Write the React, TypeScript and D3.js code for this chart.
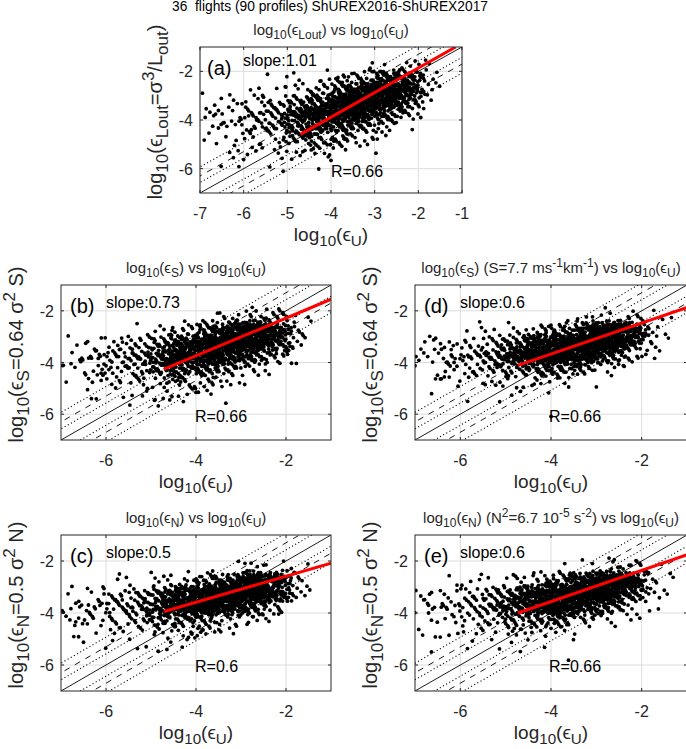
import React from "react";
import * as d3 from "d3";

const FONT = "'Liberation Sans', Arial, Helvetica, sans-serif";
const TXT = "#262626";

// ---- data: density of points (counts per 0.5 x 0.5 cell)
// x bins (log10 eps_U) by left edge; y bins by top edge
const xBinLeft = [-7, -6.5, -6, -5.5, -5, -4.5, -4, -3.5, -3, -2.5, -2];
const yBinTop = [-1.5, -2, -2.5, -3, -3.5, -4, -4.5, -5, -5.5, -6];
const BIN = 0.5;

const countsA = [
  [0, 0, 0, 2, 6, 4, 1, 1, 0, 0],
  [0, 0, 1, 4, 7, 6, 3, 2, 2, 0],
  [0, 1, 2, 6, 12, 10, 5, 3, 2, 0],
  [0, 1, 2, 10, 20, 15, 7, 4, 2, 0],
  [0, 2, 6, 22, 42, 32, 15, 6, 2, 0],
  [0, 3, 12, 38, 62, 42, 18, 8, 2, 0],
  [0, 6, 27, 68, 72, 36, 15, 4, 0, 0],
  [0, 16, 62, 85, 60, 22, 7, 2, 0, 0],
  [3, 40, 85, 66, 28, 8, 2, 0, 0, 0],
  [6, 40, 56, 32, 8, 2, 0, 0, 0, 0],
  [3, 6, 5, 2, 0, 0, 0, 0, 0, 0],
];
const countsB = [
  [0, 0, 0, 3, 6, 3, 2, 1, 0, 0],
  [0, 0, 0, 3, 9, 7, 4, 2, 0, 0],
  [0, 0, 1, 6, 14, 11, 6, 2, 0, 0],
  [0, 0, 2, 12, 22, 15, 6, 2, 1, 0],
  [0, 0, 5, 27, 44, 26, 10, 4, 1, 0],
  [0, 0, 12, 50, 66, 36, 12, 5, 1, 0],
  [0, 2, 26, 78, 76, 30, 10, 3, 0, 0],
  [0, 6, 60, 100, 60, 18, 5, 1, 0, 0],
  [0, 16, 84, 88, 34, 7, 1, 0, 0, 0],
  [0, 16, 60, 48, 12, 3, 0, 0, 0, 0],
  [0, 3, 8, 7, 2, 0, 0, 0, 0, 0],
];
const countsC = [
  [0, 0, 0, 3, 6, 4, 2, 0, 0, 0],
  [0, 0, 0, 4, 10, 6, 4, 1, 0, 0],
  [0, 0, 2, 10, 14, 9, 4, 1, 0, 0],
  [0, 0, 2, 15, 25, 12, 4, 2, 0, 0],
  [0, 1, 4, 32, 52, 18, 6, 3, 0, 0],
  [0, 0, 8, 60, 80, 26, 7, 2, 0, 0],
  [0, 0, 18, 95, 86, 24, 5, 0, 0, 0],
  [0, 1, 42, 122, 68, 14, 2, 0, 0, 0],
  [0, 4, 76, 105, 37, 6, 0, 0, 0, 0],
  [0, 6, 64, 54, 12, 2, 0, 0, 0, 0],
  [0, 2, 8, 8, 2, 0, 0, 0, 0, 0],
];
const countsD = [
  [0, 0, 0, 4, 7, 2, 2, 0, 0, 0],
  [0, 0, 0, 5, 10, 6, 3, 1, 0, 0],
  [0, 0, 2, 9, 15, 9, 4, 1, 0, 0],
  [0, 0, 3, 15, 25, 12, 4, 1, 0, 0],
  [0, 0, 5, 34, 50, 20, 6, 2, 0, 0],
  [0, 0, 10, 60, 78, 28, 6, 1, 0, 0],
  [0, 0, 20, 95, 82, 25, 4, 0, 1, 0],
  [0, 2, 48, 122, 64, 12, 1, 0, 0, 0],
  [0, 5, 82, 105, 32, 5, 0, 0, 0, 0],
  [0, 8, 70, 48, 10, 2, 0, 0, 0, 0],
  [0, 3, 9, 6, 2, 0, 0, 0, 0, 0],
];
const countsE = [
  [0, 0, 0, 5, 6, 2, 2, 0, 0, 0],
  [0, 0, 1, 6, 9, 5, 3, 1, 0, 0],
  [0, 0, 3, 10, 14, 8, 4, 1, 0, 0],
  [0, 0, 3, 17, 24, 11, 4, 1, 0, 0],
  [0, 0, 7, 37, 46, 18, 6, 2, 0, 0],
  [0, 0, 12, 66, 72, 25, 6, 1, 0, 0],
  [0, 0, 26, 100, 76, 20, 4, 0, 1, 0],
  [0, 3, 60, 122, 54, 11, 1, 0, 0, 0],
  [0, 8, 94, 94, 29, 5, 0, 0, 0, 0],
  [0, 13, 76, 41, 8, 2, 0, 0, 0, 0],
  [0, 4, 9, 5, 2, 0, 0, 0, 0, 0],
];

// fitted lines: start x, start y, slope
const fitA = [-4.7, -4.59, 1.01];
const fitB = [-4.71, -4.26, 0.73];
const fitC = [-4.71, -3.94, 0.5];
const fitD = [-4.73, -4.11, 0.6];
const fitE = [-4.73, -4.0, 0.6];

// reference lines y = x + offset
const refSolid = [0];
const refDotted = [-1.07, -0.43, 0.43, 1.07];
const refDashed = [-0.7, 0.7];

const ticksA = [-7, -6, -5, -4, -3, -2, -1];
const ticksX = [-6, -4, -2];
const ticksY = [-2, -4, -6];

const slopes = ["slope:1.01", "slope:0.73", "slope:0.5", "slope:0.6", "slope:0.6"];
const rvals = ["R=0.66", "R=0.66", "R=0.6", "R=0.66", "R=0.66"];

type Seg = { t: string; s?: "sub" | "sup" };
const S = (t: string, s?: "sub" | "sup"): Seg => ({ t, s });

const xLabelSegs = [S("log"), S("10", "sub"), S("(ϵ"), S("U", "sub"), S(")")];
const yLabelA = [S("log"), S("10", "sub"), S("(ϵ"), S("Lout", "sub"), S("=σ"), S("3", "sup"), S("/L"), S("out", "sub"), S(")")];
const yLabelS = [S("log"), S("10", "sub"), S("(ϵ"), S("S", "sub"), S("=0.64 σ"), S("2", "sup"), S(" S)")];
const yLabelN = [S("log"), S("10", "sub"), S("(ϵ"), S("N", "sub"), S("=0.5 σ"), S("2", "sup"), S(" N)")];
const titleA = [S("log"), S("10", "sub"), S("(ϵ"), S("Lout", "sub"), S(") vs log"), S("10", "sub"), S("(ϵ"), S("U", "sub"), S(")")];
const titleB = [S("log"), S("10", "sub"), S("(ϵ"), S("S", "sub"), S(") vs log"), S("10", "sub"), S("(ϵ"), S("U", "sub"), S(")")];
const titleC = [S("log"), S("10", "sub"), S("(ϵ"), S("N", "sub"), S(") vs log"), S("10", "sub"), S("(ϵ"), S("U", "sub"), S(")")];
const titleD = [S("log"), S("10", "sub"), S("(ϵ"), S("S", "sub"), S(") (S=7.7 ms"), S("-1", "sup"), S("km"), S("-1", "sup"), S(") vs log"), S("10", "sub"), S("(ϵ"), S("U", "sub"), S(")")];
const titleE = [S("log"), S("10", "sub"), S("(ϵ"), S("N", "sub"), S(") (N"), S("2", "sup"), S("=6.7 10"), S("-5", "sup"), S(" s"), S("-2", "sup"), S(") vs log"), S("10", "sub"), S("(ϵ"), S("U", "sub"), S(")")];

const frac = (v: number) => v - Math.floor(v);
// Kronecker (low-discrepancy) steps for spreading each cell's count over a tent around the cell
const K = [0.8566748839, 0.7338918566, 0.628706721, 0.5385972572];

function buildPoints(counts: number[][], seed: number) {
  const pts: [number, number][] = [];
  let n = 0;
  counts.forEach((col, i) =>
    col.forEach((c, j) => {
      for (let k = 0; k < c; k++) {
        n++;
        const m = n + seed;
        const a = frac(0.5 + m * K[0]), b = frac(0.5 + m * K[1]);
        const e = frac(0.5 + m * K[2]), f = frac(0.5 + m * K[3]);
        const u = 0.5 + (a + b - 1) * 0.95;
        const v = 0.5 + (e + f - 1) * 0.85;
        pts.push([xBinLeft[i] + BIN * u, yBinTop[j] - BIN * v]);
      }
    })
  );
  return pts;
}

function Rich({ segs, size, x, y, anchor = "middle", transform, fill = TXT, subScale = 0.8 }: any) {
  const off = (s?: string) => (s === "sub" ? 0.28 * size : s === "sup" ? -0.42 * size : 0);
  return (
    <text x={x} y={y} transform={transform} textAnchor={anchor} fontSize={size} fill={fill}
      fontFamily={FONT} style={{ whiteSpace: "pre" }}>
      {segs.map((sg: Seg, i: number) => {
        const prev = i > 0 ? segs[i - 1].s : undefined;
        const dy = off(sg.s) - off(prev);
        return (
          <tspan key={i} dy={dy} fontSize={sg.s ? size * subScale : size}>{sg.t}</tspan>
        );
      })}
    </text>
  );
}

type PanelProps = {
  id: string; left: number; top: number; w: number; h: number; xticks: number[];
  counts: number[][]; seed: number; fit: number[]; letter: string; slope: string; r: string;
  title: Seg[]; ylabel: Seg[]; letterDx: number; slopeDx: number; slopeDy: number; rDy: number; rDx: number;
};

function Panel(p: PanelProps) {
  const x = d3.scaleLinear().domain([-7, -1]).range([p.left, p.left + p.w]);
  const y = d3.scaleLinear().domain([-7, -1]).range([p.top + p.h, p.top]);
  const pts = buildPoints(p.counts, p.seed);
  const line = d3.line<[number, number]>().x((d) => x(d[0])).y((d) => y(d[1]));
  const ref = (o: number) => line([[-9, -9 + o], [1, 1 + o]]);
  const [fx0, fy0, fs] = p.fit;
  const fx1 = Math.min(-1, fx0 + (-1 - fy0) / fs);
  const fitPath = line([[fx0, fy0], [fx1, fy0 + fs * (fx1 - fx0)]]);
  const clipId = "clip" + p.id;
  const bottom = p.top + p.h, right = p.left + p.w;
  const tl = 3;
  return (
    <g>
      <defs>
        <clipPath id={clipId}><rect x={p.left} y={p.top} width={p.w} height={p.h} /></clipPath>
      </defs>
      <rect x={p.left} y={p.top} width={p.w} height={p.h} fill="#fff" />
      <g stroke="#dcdcdc" strokeWidth={1}>
        {p.xticks.map((t) => <line key={"gx" + t} x1={x(t)} x2={x(t)} y1={p.top} y2={bottom} />)}
        {ticksY.map((t) => <line key={"gy" + t} x1={p.left} x2={right} y1={y(t)} y2={y(t)} />)}
      </g>
      <g clipPath={`url(#${clipId})`} fill="none" stroke="#000">
        {refSolid.map((o) => <path key={"s" + o} d={ref(o) || ""} strokeWidth={0.9} />)}
        {refDotted.map((o) => <path key={"d" + o} d={ref(o) || ""} strokeWidth={1.1} strokeDasharray="1.1,2.5" />)}
        {refDashed.map((o) => <path key={"m" + o} d={ref(o) || ""} strokeWidth={0.9} strokeDasharray="6,6" />)}
      </g>
      <g clipPath={`url(#${clipId})`} fill="#000">
        {pts.map((d, i) => <circle key={i} cx={x(d[0])} cy={y(d[1])} r={1.9} />)}
      </g>
      <path d={fitPath || ""} stroke="#ff0000" strokeWidth={3} fill="none" clipPath={`url(#${clipId})`} />
      <rect x={p.left} y={p.top} width={p.w} height={p.h} fill="none" stroke={TXT} strokeWidth={1} />
      <g stroke={TXT} strokeWidth={1}>
        {p.xticks.map((t) => (
          <g key={"t" + t}>
            <line x1={x(t)} x2={x(t)} y1={bottom} y2={bottom - tl} />
            <line x1={x(t)} x2={x(t)} y1={p.top} y2={p.top + tl} />
          </g>
        ))}
        {ticksY.map((t) => (
          <g key={"ty" + t}>
            <line x1={p.left} x2={p.left + tl} y1={y(t)} y2={y(t)} />
            <line x1={right} x2={right - tl} y1={y(t)} y2={y(t)} />
          </g>
        ))}
      </g>
      <g fontFamily={FONT} fontSize={16} fill={TXT}>
        {p.xticks.map((t) => (
          <text key={"lx" + t} x={x(t)} y={bottom + 26} textAnchor="middle">{String(t)}</text>
        ))}
        {ticksY.map((t) => (
          <text key={"ly" + t} x={p.left - 7} y={y(t) + 6} textAnchor="end">{String(t)}</text>
        ))}
      </g>
      <Rich segs={p.title} size={15} x={p.left + p.w / 2} y={p.top - 12} />
      <Rich segs={xLabelSegs} size={19} x={p.left + p.w / 2} y={bottom + 48} />
      <Rich segs={p.ylabel} size={20} subScale={0.85} x={0} y={0} transform={`translate(${p.left - 38},${p.top + p.h / 2 - 8}) rotate(-90)`} />
      <text x={p.left + p.letterDx} y={p.top + 28} fontFamily={FONT} fontSize={20} fill="#000">{p.letter}</text>
      <text x={p.left + p.slopeDx} y={p.top + p.slopeDy} fontFamily={FONT} fontSize={16} fill="#000">{p.slope}</text>
      <text x={p.left + p.rDx} y={bottom - p.rDy} fontFamily={FONT} fontSize={16} fill="#000">{p.r}</text>
    </g>
  );
}

export default function App() {
  const panels: PanelProps[] = [
    { id: "a", left: 200, top: 47, w: 262, h: 146, xticks: ticksA, counts: countsA, seed: 0, fit: fitA, letter: "(a)", slope: slopes[0], r: rvals[0], title: titleA, ylabel: yLabelA, letterDx: 7, slopeDx: 43, slopeDy: 19, rDy: 16, rDx: 131 },
    { id: "b", left: 61, top: 285, w: 270, h: 155, xticks: ticksX, counts: countsB, seed: 17, fit: fitB, letter: "(b)", slope: slopes[1], r: rvals[1], title: titleB, ylabel: yLabelS, letterDx: 9, slopeDx: 45, slopeDy: 23, rDy: 18, rDx: 134 },
    { id: "c", left: 61, top: 535, w: 270, h: 156, xticks: ticksX, counts: countsC, seed: 41, fit: fitC, letter: "(c)", slope: slopes[2], r: rvals[2], title: titleC, ylabel: yLabelN, letterDx: 9, slopeDx: 45, slopeDy: 23, rDy: 19, rDx: 134 },
    { id: "d", left: 415, top: 285, w: 272, h: 155, xticks: ticksX, counts: countsD, seed: 67, fit: fitD, letter: "(d)", slope: slopes[3], r: rvals[3], title: titleD, ylabel: yLabelS, letterDx: 9, slopeDx: 45, slopeDy: 23, rDy: 18, rDx: 134 },
    { id: "e", left: 415, top: 535, w: 272, h: 156, xticks: ticksX, counts: countsE, seed: 89, fit: fitE, letter: "(e)", slope: slopes[4], r: rvals[4], title: titleE, ylabel: yLabelN, letterDx: 9, slopeDx: 45, slopeDy: 23, rDy: 19, rDx: 134 },
  ];
  return (
    <svg width={686} height={749} style={{ position: "absolute", left: 0, top: 0, background: "#fff" }}>
      <rect width={686} height={749} fill="#fff" />
      {panels.map((p) => <Panel key={p.id} {...p} />)}
      <text x={330} y={10.5} textAnchor="middle" fontFamily={FONT} fontSize={13.8} fill="#000" style={{ whiteSpace: "pre" }}>
        36  flights (90 profiles) ShUREX2016-ShUREX2017
      </text>
    </svg>
  );
}
